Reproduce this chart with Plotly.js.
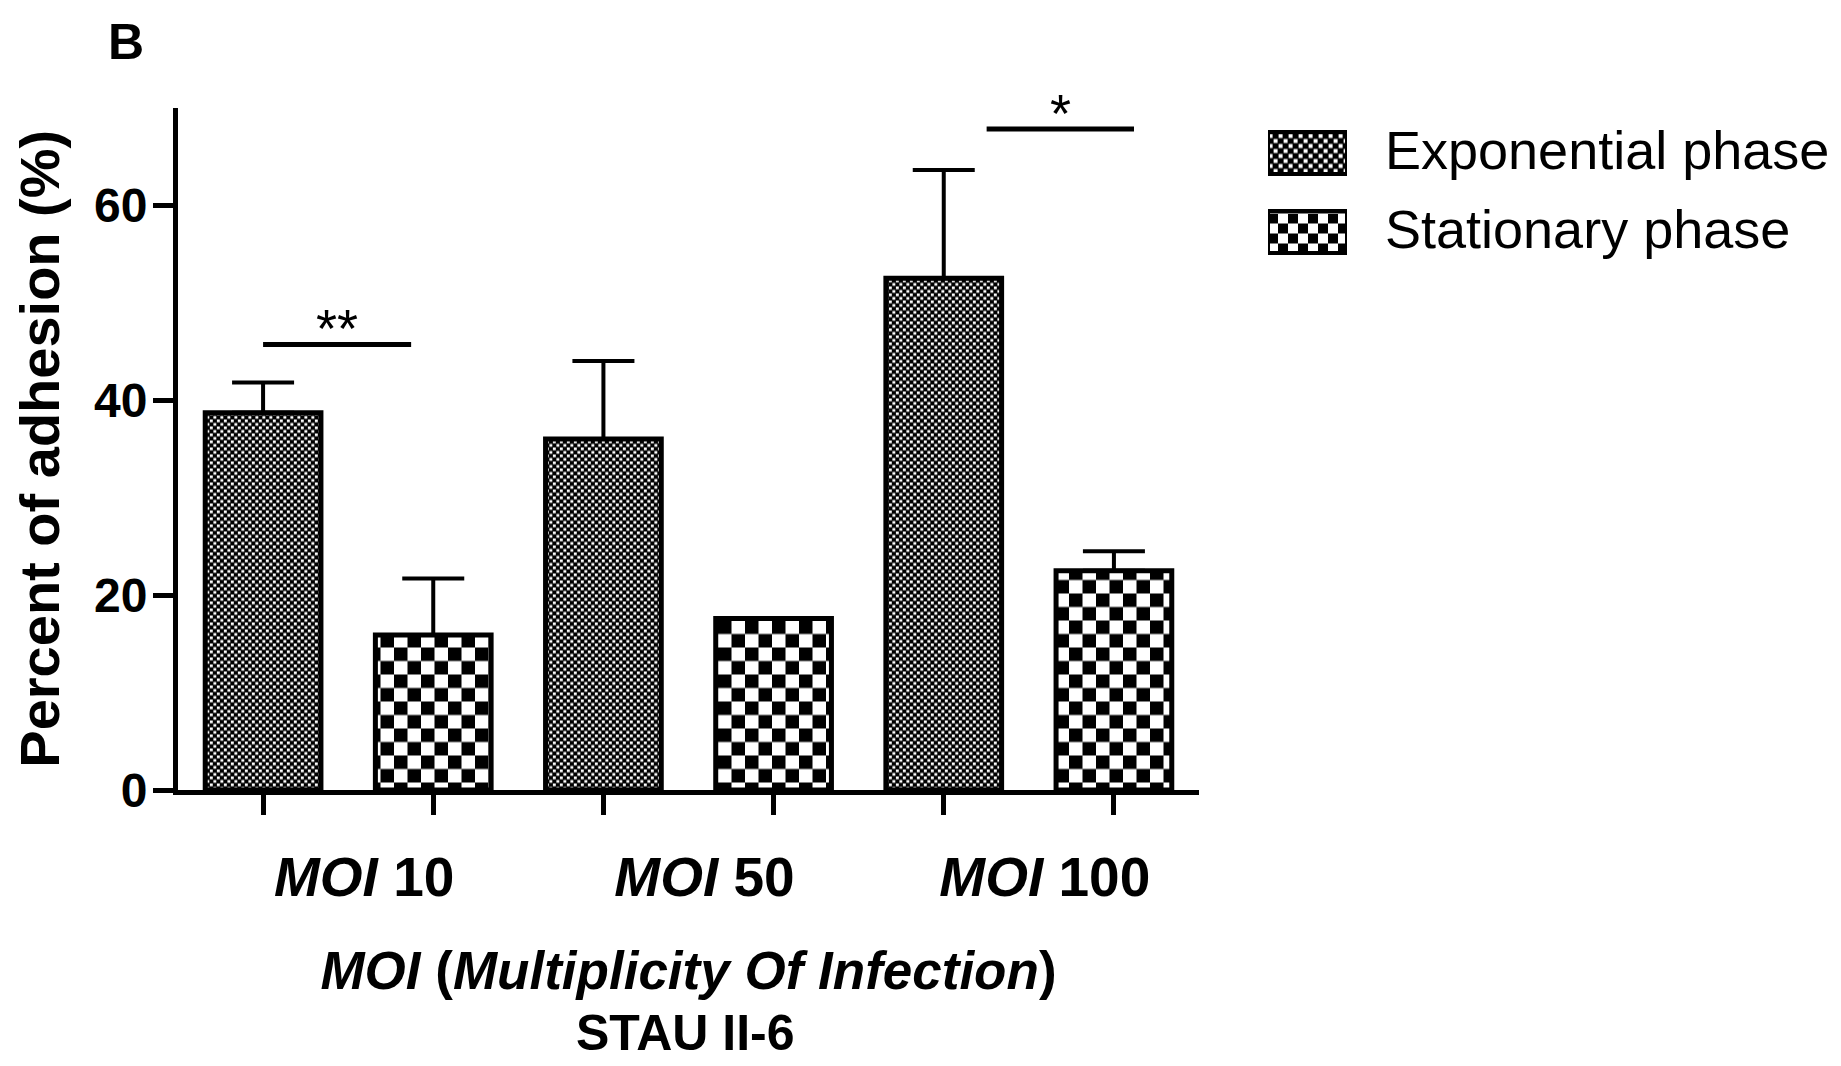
<!DOCTYPE html>
<html><head><meta charset="utf-8">
<script src="https://cdn.plot.ly/plotly-3.0.1.min.js"></script>
<style>html,body{margin:0;padding:0;background:#fff}#chart{width:1841px;height:1066px}</style>
</head><body><div id="chart"></div>
<script>
// ---- data ----
const categories = ['MOI 10', 'MOI 50', 'MOI 100'];
const categoryLabels = ['<i>MOI</i> 10', '<i>MOI</i> 50', '<i>MOI</i> 100'];
const seriesNames = ['Exponential phase', 'Stationary phase'];
const exponentialMean = [38.7, 36.0, 52.5];
const exponentialErr = [3.1, 8.0, 11.1];
const stationaryMean = [15.9, 17.6, 22.5];
const stationaryErr = [5.8, 0, 2.0];
const yTickValues = [0, 20, 40, 60];
const sigStart = [-0.25, 1.876];
const sigEnd = [0.185, 2.309];
const sigLevel = [45.7, 67.8];
const sigLabels = ['**', '*'];
const panelLabel = 'B';
const yTitle = 'Percent of adhesion (%)';
const xTitle = '<i>MOI</i> (<i>Multiplicity Of Infection</i>)';
const xSubTitle = 'STAU II-6';

// ---- styling ----
const FONT = 'Liberation Sans, Arial, Helvetica, sans-serif';
const W = 1841, H = 1066;
const px = v => v / W;
const py = v => 1 - v / H;

const expPatternMain = {path: 'M0.4,0.4h2.9v2.9h-2.9z M3.9,3.9h2.9v2.9h-2.9z', size: 7, bgcolor: '#000', fgcolor: '#fff'};
const statPatternMain = {path: 'M0,0h13.5v13.5h-13.5z M13.5,13.5h13.5v13.5h-13.5z', size: 27, bgcolor: '#fff', fgcolor: '#000'};
const expPatternLeg = {path: 'M0.6,0.6h4v4h-4z M5.6,5.6h4v4h-4z', size: 10, bgcolor: '#000', fgcolor: '#fff'};
const statPatternLeg = {path: 'M0,0h10v10h-10z M10,10h10v10h-10z', size: 20, bgcolor: '#fff', fgcolor: '#000'};

const errStyle = {type: 'data', symmetric: false, thickness: 4, width: 31, color: '#000'};

const traces = [
  {
    type: 'bar', name: seriesNames[0], x: categories, y: exponentialMean,
    marker: {color: '#000', pattern: expPatternMain, line: {color: '#000', width: 5}},
    error_y: Object.assign({array: exponentialErr, arrayminus: exponentialErr.map(() => 0)}, errStyle),
    hoverinfo: 'x+y+name'
  },
  {
    type: 'bar', name: seriesNames[1], x: categories, y: stationaryMean,
    marker: {color: '#fff', pattern: statPatternMain, line: {color: '#000', width: 5}},
    error_y: Object.assign({array: stationaryErr, arrayminus: stationaryErr.map(() => 0)}, errStyle),
    hoverinfo: 'x+y+name'
  },
  // legend swatches, drawn on their own small axes
  {
    type: 'bar', orientation: 'h', x: [1], y: [seriesNames[0]], xaxis: 'x3', yaxis: 'y3',
    width: 0.53, offset: -0.265, showlegend: false, hoverinfo: 'skip',
    marker: {color: '#000', pattern: expPatternLeg, line: {color: '#000', width: 4}}
  },
  {
    type: 'bar', orientation: 'h', x: [1], y: [seriesNames[1]], xaxis: 'x3', yaxis: 'y3',
    width: 0.53, offset: -0.265, showlegend: false, hoverinfo: 'skip',
    marker: {color: '#fff', pattern: statPatternLeg, line: {color: '#000', width: 4}}
  }
];

const shapes = sigLevel.map((lvl, i) => ({
  type: 'line', xref: 'x', yref: 'y', x0: sigStart[i], x1: sigEnd[i], y0: lvl, y1: lvl,
  line: {color: '#000', width: 5}
}));

const annotations = [];
sigLabels.forEach((t, i) => annotations.push({
  text: t, xref: 'x', yref: 'y', x: (sigStart[i] + sigEnd[i]) / 2, y: sigLevel[i],
  xanchor: 'center', yanchor: 'middle', yshift: 16, showarrow: false,
  font: {family: FONT, size: 54, color: '#000'}
}));
seriesNames.forEach(n => annotations.push({
  text: n, xref: 'paper', yref: 'y3', x: px(1383), y: n, xanchor: 'left', yanchor: 'middle',
  yshift: 3, showarrow: false, font: {family: FONT, size: 54, color: '#000'}
}));
annotations.push({
  text: panelLabel, xref: 'paper', yref: 'paper', x: px(126), y: py(42),
  xanchor: 'center', yanchor: 'middle', showarrow: false,
  font: {family: FONT, size: 50, color: '#000', weight: 'bold'}
});
annotations.push({
  text: xSubTitle, xref: 'paper', yref: 'paper', x: px(685), y: py(1033),
  xanchor: 'center', yanchor: 'middle', showarrow: false,
  font: {family: FONT, size: 50, color: '#000', weight: 'bold'}
});

const layout = {
  width: W, height: H,
  margin: {l: 0, r: 0, t: 0, b: 0, pad: 0},
  paper_bgcolor: '#fff', plot_bgcolor: 'rgba(0,0,0,0)',
  showlegend: false,
  barmode: 'group', bargap: 0, bargroupgap: 0.32,
  font: {family: FONT, color: '#000'},
  xaxis: {
    type: 'category', domain: [px(178), px(1199)], range: [-0.5, categories.length - 0.5],
    anchor: 'y', showline: true, linecolor: '#000', linewidth: 5,
    showgrid: false, zeroline: false,
    tickmode: 'array',
    tickvals: categories.flatMap((c, i) => [i - 0.25, i + 0.25]),
    ticktext: categories.flatMap(() => ['', '']),
    ticks: 'outside', ticklen: 20, tickwidth: 5, tickcolor: '#000',
    title: {text: xTitle, standoff: 137, font: {family: FONT, size: 53, weight: 'bold', color: '#000'}}
  },
  xaxis2: {
    overlaying: 'x', anchor: 'y', side: 'bottom',
    range: [-0.5, categories.length - 0.5], showline: false, showgrid: false, zeroline: false,
    tickmode: 'array', tickvals: categories.map((c, i) => i), ticktext: categoryLabels,
    ticks: '', ticklabelstandoff: 50, ticklabelshift: 16,
    tickfont: {family: FONT, size: 55, weight: 'bold', color: '#000'}
  },
  yaxis: {
    domain: [py(790), py(107.5)], range: [0, 70], anchor: 'x',
    showline: true, linecolor: '#000', linewidth: 5, showgrid: false, zeroline: false,
    tickmode: 'array', tickvals: yTickValues,
    ticks: 'outside', ticklen: 20, tickwidth: 5, tickcolor: '#000', ticklabelstandoff: -4,
    tickfont: {family: FONT, size: 48, weight: 'bold', color: '#000'},
    title: {text: yTitle, standoff: 18, font: {family: FONT, size: 56, weight: 'bold', color: '#000'}}
  },
  xaxis3: {domain: [px(1268), px(1347)], range: [0, 1], anchor: 'y3', visible: false, fixedrange: true},
  yaxis3: {domain: [py(271.5), py(113.5)], type: 'category', categoryorder: 'array',
           categoryarray: seriesNames, range: [1.5, -0.5], anchor: 'x3', visible: false, fixedrange: true},
  shapes: shapes,
  annotations: annotations
};

// invisible helper trace so the label axis xaxis2 is drawn
traces.push({type: 'scatter', x: [0], y: [0], xaxis: 'x2', yaxis: 'y', mode: 'markers',
             marker: {opacity: 0}, hoverinfo: 'skip', showlegend: false});

Plotly.newPlot('chart', traces, layout, {displayModeBar: false, staticPlot: true});
</script>
</body></html>
